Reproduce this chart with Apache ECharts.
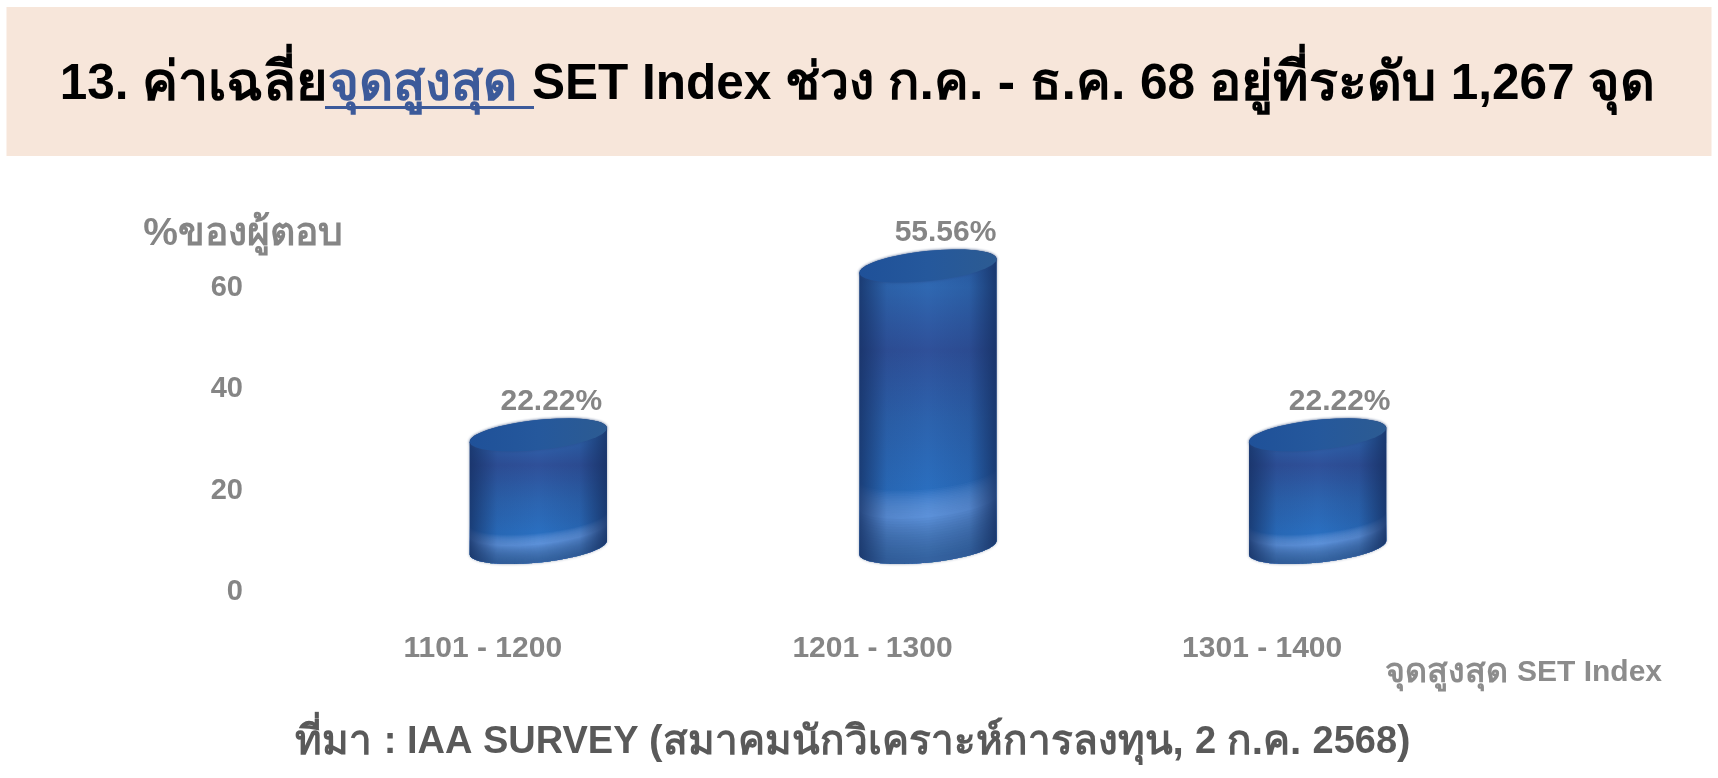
<!DOCTYPE html>
<html><head><meta charset="utf-8">
<style>html,body{margin:0;padding:0;background:#fff}#c{width:1718px;height:778px}</style>
<script src="https://cdn.jsdelivr.net/npm/echarts@6/dist/echarts.min.js"></script>
</head><body><div id="c"></div>
<script>
const categories = ['1101 - 1200', '1201 - 1300', '1301 - 1400'];
const shareValues = [22.22, 55.56, 22.22];
const yTicks = [0, 20, 40, 60];
const titleRich = '{a|13. }{t|ค่าเฉลี่ย}{b|จุดสูงสุด }{a|SET Index }{c|ช่วง ก.ค. - ธ.ค. }{a|68 }{t|อยู่ที่ระดับ }{a|1,267 }{t|จุด}';
const yName = '%ของผู้ตอบ';
const xNameRich = '{t|จุดสูงสุด }{a|SET Index}';
const sourceRich = '{t|ที่มา }{a|: IAA SURVEY }{t|(สมาคมนักวิเคราะห์การลงทุน, }{a|2 }{t|ก.ค. }{a|2568}{t|)}';

const FONT = '"Liberation Sans","Noto Sans",sans-serif';
const GREY = '#858585';
const DX = 55.5, DY = -44.5, A = 69, B = 15, ROT = -6 * Math.PI / 180;

function ell(cx, cy, t) {
  return [cx + A * Math.cos(t) * Math.cos(ROT) - B * Math.sin(t) * Math.sin(ROT),
          cy + A * Math.cos(t) * Math.sin(ROT) + B * Math.sin(t) * Math.cos(ROT)];
}
function arc(cx, cy, from, to) {
  const p = [];
  for (let i = 0; i <= 32; i++) p.push(ell(cx, cy, from + (to - from) * i / 32));
  return p;
}
function renderCylinder(params, api) {
  const idx = api.value(0), v = api.value(1);
  const base = api.coord([idx, 0]);
  const top = api.coord([idx, v]);
  const cx = base[0] + DX, by = base[1] + DY, ty = top[1] + DY;
  const h = by - ty;
  const body = arc(cx, by, 0, Math.PI).concat(arc(cx, ty, Math.PI, 2 * Math.PI));
  const topPts = arc(cx, ty, 0, 2 * Math.PI);
  const lin = (x, y, x2, y2, stops) => ({ type: 'linear', x, y, x2, y2,
    colorStops: stops.map(s => ({ offset: s[0], color: s[1] })) });
  const band = (d, fill) => ({ type: 'polygon',
    shape: { points: arc(cx, by, 0, Math.PI).concat(arc(cx, by - d, Math.PI, 0)) }, style: { fill } });
  const layers = [];
  for (let k = 0; k < 16; k++) layers.push(band(h * (0.26 - 0.09 * k / 15), 'rgba(110,155,225,0.1)'));
  for (let k = 0; k < 16; k++) layers.push(band(h * (0.16 - 0.14 * k / 15), 'rgba(38,78,135,0.07)'));
  return { type: 'group', children: [
    { type: 'polygon', shape: { points: body }, style: {
        fill: lin(0, 0, 0, 1, [[0, '#2a5ca6'], [0.12, '#2f68b2'], [0.32, '#2f5099'], [0.55, '#2c63ae'],
          [0.78, '#2a6fc0'], [1, '#2a6fc0']]),
        shadowBlur: 3, shadowColor: 'rgba(40,60,100,0.5)' } }
  ].concat(layers, [
    { type: 'polygon', shape: { points: body }, style: {
        fill: lin(0, 0, 1, 0, [[0, 'rgba(20,45,95,0.75)'], [0.2, 'rgba(20,45,95,0.12)'], [0.5, 'rgba(20,45,95,0)'],
          [0.8, 'rgba(20,45,95,0.15)'], [1, 'rgba(20,45,95,0.8)']]) } },
    { type: 'polygon', shape: { points: topPts }, style: {
        fill: lin(0, 0, 1, 0, [[0, '#1f5199'], [0.5, '#25589c'], [1, '#2c5b92']]),
        shadowBlur: 3, shadowColor: 'rgba(37,70,130,0.6)' } },
    { type: 'text', style: { x: cx + 13 + 4.5 * idx, y: ty - 33, text: v.toFixed(2) + '%', align: 'center', verticalAlign: 'middle',
        fill: GREY, font: 'bold 30px ' + FONT } }
  ]) };
}

const chart = echarts.init(document.getElementById('c'), null, { renderer: 'canvas' });
chart.setOption({
  animation: false,
  backgroundColor: '#fff',
  title: [{
    text: titleRich,
    left: 852.5, top: 80, textAlign: 'center', textVerticalAlign: 'middle',
    textStyle: { rich: {
      a: { fontFamily: FONT, fontWeight: 'bold', fontSize: 49.5, color: '#000' },
      t: { fontFamily: FONT, fontWeight: 'bold', fontSize: 54, color: '#000' },
      c: { fontFamily: FONT, fontWeight: 'bold', fontSize: 52, color: '#000' },
      b: { fontFamily: FONT, fontWeight: 'bold', fontSize: 53, color: '#3c5a9a' } } }
  }, {
    text: sourceRich, left: 848, top: 738, textAlign: 'center', textVerticalAlign: 'middle',
    textStyle: { rich: {
      a: { fontFamily: FONT, fontWeight: 'bold', fontSize: 38, color: '#595959' },
      t: { fontFamily: FONT, fontWeight: 'bold', fontSize: 40.5, color: '#595959' } } }
  }],
  graphic: [
    { type: 'rect', z: -1, shape: { x: 6.5, y: 7, width: 1705, height: 149 }, style: { fill: '#f7e6da' } },
    { type: 'rect', z: 10, shape: { x: 325, y: 106, width: 209, height: 3 }, style: { fill: '#3c5a9a' } }
  ],
  grid: { left: 288, right: 261, top: 288, bottom: 186 },
  xAxis: {
    type: 'category', data: categories,
    axisLine: { show: false }, axisTick: { show: false },
    axisLabel: { margin: 42, fontFamily: FONT, fontWeight: 'bold', fontSize: 30, color: GREY },
    name: xNameRich, nameLocation: 'end', nameGap: 205, nameMoveOverlap: false,
    nameTextStyle: { align: 'right', verticalAlign: 'middle', padding: [162, 0, 0, 0], rich: {
      a: { fontFamily: FONT, fontWeight: 'bold', fontSize: 30, color: '#8c8c8c' },
      t: { fontFamily: FONT, fontWeight: 'bold', fontSize: 34, color: '#8c8c8c' } } }
  },
  yAxis: {
    type: 'value', min: 0, max: 60, interval: 20,
    axisLine: { show: false }, axisTick: { show: false }, splitLine: { show: false },
    axisLabel: { margin: 45, fontFamily: FONT, fontWeight: 'bold', fontSize: 29, color: GREY },
    name: yName, nameLocation: 'end', nameGap: 54, nameMoveOverlap: false,
    nameTextStyle: { fontFamily: FONT, fontWeight: 'bold', fontSize: 39, color: GREY, align: 'center', verticalAlign: 'middle', padding: [0, 90, 0, 0] }
  },
  series: [{
    type: 'custom', renderItem: renderCylinder, clip: false,
    encode: { x: 0, y: 1 },
    data: shareValues.map((v, i) => [i, v])
  }]
});
</script></body></html>
